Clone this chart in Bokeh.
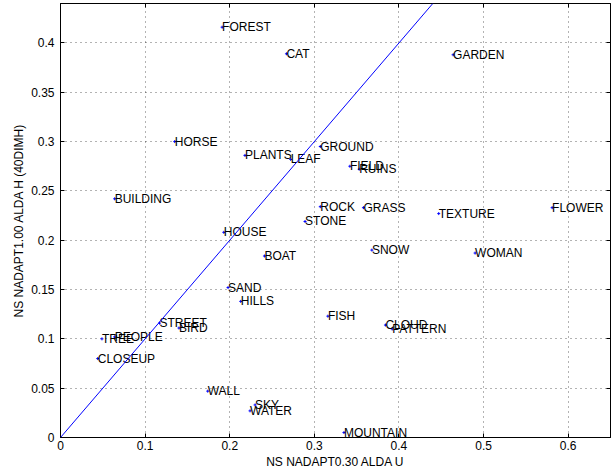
from bokeh.plotting import figure
from bokeh.models import Range1d, LinearAxis, FixedTicker, Slope, ColumnDataSource
from bokeh.core.properties import value
from bokeh.embed import file_html
from bokeh.resources import INLINE

labels = ["FOREST", "CAT", "GARDEN", "HORSE", "PLANTS", "LEAF", "GROUND", "FIELD", "RUINS",
          "BUILDING", "ROCK", "GRASS", "TEXTURE", "FLOWER", "STONE", "HOUSE", "SNOW", "WOMAN",
          "BOAT", "SAND", "HILLS", "FISH", "STREET", "BIRD", "CLOUD", "PATTERN", "PEOPLE",
          "TREE", "CLOSEUP", "WALL", "SKY", "WATER", "MOUNTAIN"]
x_vals = [0.191, 0.267, 0.464, 0.135, 0.218, 0.272, 0.307, 0.342, 0.353,
          0.064, 0.307, 0.358, 0.447, 0.581, 0.289, 0.193, 0.368, 0.490,
          0.241, 0.198, 0.213, 0.316, 0.117, 0.140, 0.384, 0.392, 0.064,
          0.049, 0.044, 0.174, 0.230, 0.224, 0.335]
y_vals = [0.416, 0.389, 0.388, 0.300, 0.286, 0.282, 0.295, 0.275, 0.272,
          0.242, 0.234, 0.233, 0.227, 0.233, 0.219, 0.208, 0.190, 0.187,
          0.184, 0.152, 0.138, 0.123, 0.116, 0.111, 0.114, 0.110, 0.102,
          0.100, 0.080, 0.047, 0.033, 0.027, 0.005]

x_ticks = [0.0, 0.1, 0.2, 0.3, 0.4, 0.5, 0.6]
x_tick_labels = ["0", "0.1", "0.2", "0.3", "0.4", "0.5", "0.6"]
y_ticks = [0.0, 0.05, 0.1, 0.15, 0.2, 0.25, 0.3, 0.35, 0.4]
y_tick_labels = ["0", "0.05", "0.1", "0.15", "0.2", "0.25", "0.3", "0.35", "0.4"]

x_label = "NS NADAPT0.30 ALDA U"
y_label = "NS NADAPT1.00 ALDA H (40DIMH)"

FONT = "Liberation Sans"
FS = "12px"

p = figure(frame_width=550, frame_height=434, output_backend="svg", toolbar_location=None,
           x_range=Range1d(0, 0.65), y_range=Range1d(0, 0.44),
           min_border_left=60, min_border_top=3, min_border_right=6, min_border_bottom=36,
           background_fill_color="white", border_fill_color="white")
p.outline_line_color = "black"
p.outline_line_width = 1
p.outline_line_alpha = 1

for ax, ticks, tl, lab in [(p.xaxis[0], x_ticks, x_tick_labels, x_label),
                           (p.yaxis[0], y_ticks, y_tick_labels, y_label)]:
    ax.ticker = FixedTicker(ticks=ticks)
    ax.major_label_overrides = dict(zip(ticks, tl))
    ax.major_tick_in = 4
    ax.major_tick_out = 0
    ax.minor_tick_line_color = None
    ax.axis_line_color = "black"
    ax.major_tick_line_color = "black"
    ax.major_label_text_font = FONT
    ax.major_label_text_font_size = FS
    ax.major_label_text_color = "black"
    ax.axis_label = lab
    ax.axis_label_text_font = FONT
    ax.axis_label_text_font_size = FS
    ax.axis_label_text_font_style = "normal"
    ax.axis_label_text_color = "black"
p.xaxis[0].major_label_standoff = 3
p.xaxis[0].axis_label_standoff = 2
p.yaxis[0].major_label_standoff = 6
p.yaxis[0].axis_label_standoff = 2

top_ax = LinearAxis(ticker=FixedTicker(ticks=x_ticks),
                    major_label_overrides={t: "" for t in x_ticks})
right_ax = LinearAxis(ticker=FixedTicker(ticks=y_ticks),
                      major_label_overrides={t: "" for t in y_ticks})
for ax in (top_ax, right_ax):
    ax.major_tick_in = 4
    ax.major_tick_out = 0
    ax.minor_tick_line_color = None
    ax.major_label_standoff = 0
    ax.major_label_text_font_size = "1px"
    ax.axis_line_color = "black"
p.add_layout(top_ax, "above")
p.add_layout(right_ax, "right")

p.xgrid.ticker = FixedTicker(ticks=x_ticks)
p.ygrid.ticker = FixedTicker(ticks=y_ticks)
for g in (p.xgrid[0], p.ygrid[0]):
    g.grid_line_color = "black"
    g.grid_line_alpha = 0.6
    g.grid_line_dash = "1 4"
    g.grid_line_width = 1

p.add_layout(Slope(gradient=1, y_intercept=0, line_color="blue", line_width=1))

src = ColumnDataSource(dict(x=x_vals, y=y_vals, label=labels))
p.scatter(x="x", y="y", source=src, marker="cross", size=3, line_color="blue", line_width=1)
p.text(x="x", y="y", text="label", source=src, text_font=value(FONT),
       text_font_size=value(FS), text_baseline="middle", text_align="left",
       x_offset=0, text_color="black")

open("out.html", "w").write(file_html(p, INLINE))
